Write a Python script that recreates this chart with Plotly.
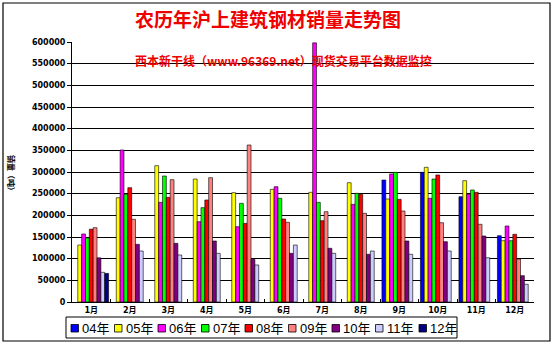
import plotly.graph_objects as go

months = ["1月", "2月", "3月", "4月", "5月", "6月", "7月", "8月", "9月", "10月", "11月", "12月"]
series_names = ["04年", "05年", "06年", "07年", "08年", "09年", "10年", "11年", "12年"]

y04 = [None, None, None, None, None, None, None, None, 281500, 299200, 243000, 153000]
y05 = [131500, 240700, 314600, 283800, 252300, 260000, 253100, 275300, 237700, 310800, 280000, 141500]
y06 = [157000, 350800, 230000, 185300, 173800, 266100, 598000, 225400, 295400, 239300, 249200, 175400]
y07 = [148000, 248500, 290800, 217700, 227700, 239300, 230000, 250800, 299200, 283800, 258500, 141500]
y08 = [168000, 263800, 241500, 235400, 181500, 191500, 187600, 248500, 236900, 293100, 253100, 156200]
y09 = [171500, 190800, 282300, 286900, 362300, 183900, 208400, 204700, 210000, 183000, 179300, 99200]
y10 = [102000, 133100, 135400, 140800, 98500, 112300, 123900, 110100, 140800, 139200, 152300, 60700]
y11 = [68500, 117700, 108500, 112300, 85400, 131500, 112300, 117700, 110100, 117700, 102200, 40800]
y12 = [66000, None, None, None, None, None, None, None, None, None, None, None]

y_ticks = [0, 50000, 100000, 150000, 200000, 250000, 300000, 350000, 400000, 450000, 500000, 550000, 600000]

title_text = "农历年沪上建筑钢材销量走势图"
watermark_text = "西本新干线（www.96369.net）现货交易平台数据监控"
y_title = "销量（吨）"

colors = ["#0000FF", "#FFFF00", "#FF00FF", "#00FF00", "#FF0000", "#FF8080", "#800080", "#CCCCFF", "#000080"]
all_series = [y04, y05, y06, y07, y08, y09, y10, y11, y12]

W, H = 554, 347
L, R, T, B = 72, 20, 42, 45
pw = W - L - R
ph = H - T - B


def px(x):
    return (x - L) / pw


def py(y):
    return (H - B - y) / ph


fig = go.Figure()
for name, vals, col in zip(series_names, all_series, colors):
    fig.add_trace(go.Bar(
        x=months, y=vals, name=name,
        marker=dict(color=col, line=dict(color="black", width=0.6)),
        showlegend=False,
    ))

shapes = []
annotations = []

# outer border
shapes.append(dict(type="rect", xref="paper", yref="paper",
                   x0=px(3), x1=px(550), y0=py(341), y1=py(3),
                   line=dict(color="black", width=1.2), fillcolor="rgba(0,0,0,0)", layer="below"))

# custom legend box
shapes.append(dict(type="rect", xref="paper", yref="paper",
                   x0=px(66), x1=px(457), y0=py(338), y1=py(317),
                   line=dict(color="black", width=1), fillcolor="white"))
for i, (name, col) in enumerate(zip(series_names, colors)):
    sx = 71 + i * 43.5
    shapes.append(dict(type="rect", xref="paper", yref="paper",
                       x0=px(sx), x1=px(sx + 7.5), y0=py(332), y1=py(324.5),
                       line=dict(color="black", width=0.8), fillcolor=col))
    annotations.append(dict(x=px(sx + 9), y=py(328), xref="paper", yref="paper",
                            text=name, showarrow=False, xanchor="left", yanchor="middle",
                            font=dict(family="Liberation Sans, Noto Sans CJK SC", size=13, color="black")))

annotations.append(dict(x=px(268), xref="paper", y=py(18), yref="paper", text=title_text,
                        showarrow=False, xanchor="center", yanchor="middle",
                        font=dict(family="Noto Sans CJK SC", size=19, color="#EE0000", weight="bold")))
annotations.append(dict(x=px(283), xref="paper", y=py(61), yref="paper", text=watermark_text,
                        showarrow=False, xanchor="center", yanchor="middle",
                        font=dict(family="Noto Sans CJK SC", size=12, color="#EE0000", weight="bold")))
annotations.append(dict(x=px(12), xref="paper", y=py(175), yref="paper", text=y_title,
                        showarrow=False, xanchor="center", yanchor="middle", textangle=90,
                        font=dict(family="Noto Sans CJK SC", size=8, color="black", weight="bold")))

fig.update_layout(
    width=W, height=H,
    margin=dict(l=L, r=R, t=T, b=B),
    paper_bgcolor="white", plot_bgcolor="white",
    barmode="group", bargap=0.1, bargroupgap=0,
    showlegend=False,
    shapes=shapes, annotations=annotations,
    xaxis=dict(
        type="category", showline=True, linecolor="black", linewidth=1,
        ticks="inside", ticklen=3, tickcolor="black", tickson="boundaries",
        showgrid=False,
        tickfont=dict(family="DejaVu Sans, Noto Sans CJK SC", size=8, color="black", weight="bold"),
    ),
    yaxis=dict(
        range=[0, 600000], tickvals=y_ticks, ticktext=[str(v) for v in y_ticks],
        showline=True, linecolor="black", linewidth=1,
        ticks="outside", ticklen=4, tickcolor="black",
        showgrid=True, gridcolor="black", gridwidth=1, zeroline=False,
        tickfont=dict(family="DejaVu Sans", size=8, color="black", weight="bold"),
    ),
)

fig.write_html("out.html")
